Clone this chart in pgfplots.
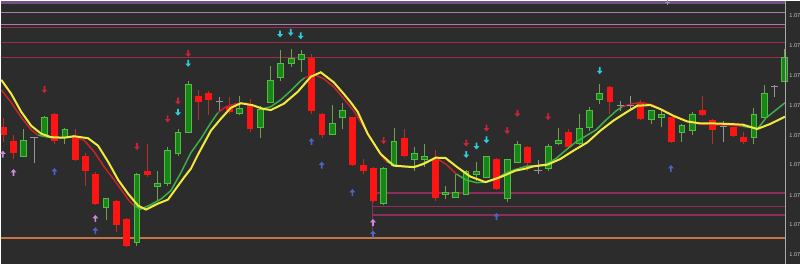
\documentclass[border=0pt]{standalone}
\usepackage{fontspec}
\setmainfont{Liberation Sans}
\usepackage{pgfplots}
\usepackage{pgfplotstable}
\pgfplotsset{compat=1.18}

\definecolor{bg}{RGB}{44,44,44}
\definecolor{gfill}{RGB}{22,135,22}
\definecolor{gline}{RGB}{90,185,70}
\definecolor{gwick}{RGB}{110,160,80}
\definecolor{rfill}{RGB}{255,20,20}
\definecolor{rwick}{RGB}{175,50,40}
\definecolor{dgray}{RGB}{150,150,150}
\definecolor{maR}{RGB}{200,35,40}
\definecolor{maG}{RGB}{60,175,70}
\definecolor{maY}{RGB}{240,235,60}
\definecolor{arR}{RGB}{205,35,55}
\definecolor{arC}{RGB}{45,205,225}
\definecolor{arL}{RGB}{200,140,220}
\definecolor{arB}{RGB}{75,100,200}
\definecolor{topband}{RGB}{115,80,135}
\definecolor{lav}{RGB}{165,125,180}
\definecolor{lred}{RGB}{155,45,70}
\definecolor{lmar}{RGB}{140,45,90}
\definecolor{lorg}{RGB}{200,115,70}
\definecolor{sep}{RGB}{170,170,170}
\definecolor{lbl}{RGB}{200,200,200}

\pgfdeclareplotmark{dnarrow}{%
 \pgfpathmoveto{\pgfqpoint{-0.42pt}{1.8pt}}%
 \pgfpathlineto{\pgfqpoint{0.42pt}{1.8pt}}%
 \pgfpathlineto{\pgfqpoint{0.42pt}{0pt}}%
 \pgfpathlineto{\pgfqpoint{1.45pt}{0pt}}%
 \pgfpathlineto{\pgfqpoint{0pt}{-1.65pt}}%
 \pgfpathlineto{\pgfqpoint{-1.45pt}{0pt}}%
 \pgfpathlineto{\pgfqpoint{-0.42pt}{0pt}}%
 \pgfpathclose\pgfusepathqfill}
\pgfdeclareplotmark{uparrow}{%
 \pgfpathmoveto{\pgfqpoint{-0.42pt}{-1.8pt}}%
 \pgfpathlineto{\pgfqpoint{0.42pt}{-1.8pt}}%
 \pgfpathlineto{\pgfqpoint{0.42pt}{0pt}}%
 \pgfpathlineto{\pgfqpoint{1.45pt}{0pt}}%
 \pgfpathlineto{\pgfqpoint{0pt}{1.65pt}}%
 \pgfpathlineto{\pgfqpoint{-1.45pt}{0pt}}%
 \pgfpathlineto{\pgfqpoint{-0.42pt}{0pt}}%
 \pgfpathclose\pgfusepathqfill}

\pgfplotsset{
  candle/.style 2 args={draw=none, mark=none, forget plot,
    error bars/.cd, y dir=both, y explicit, error mark=none,
    error bar style={draw=#1, line width=#2}},
}

% candles: i, body top, body bottom, wick top, wick bottom (screen units, downward)
\pgfplotstableread{
i bt bb wt wb
2 140 155.7 128 156
4 116.5 134 115 135
6 128.3 136.7 127 143
10 197.3 206.7 197 219
13 173.3 242.3 172 245
15 182.3 185.7 170 200
16 149.3 183 146.5 185
17 131.7 152.7 128.3 155.7
18 84 131.7 80.5 131.7
23 107.3 113.3 95 114
25 108.5 127 105 137
26 80 101.5 65.5 101.5
27 62.3 77.3 49.5 80
28 57.3 62.7 47.7 66.5
29 53.3 59.2 49.5 71.7
32 122.5 134.3 104.3 134.5
33 110 117.3 102 128.3
37 167.5 203.3 166 204
38 140.5 165 127.7 165
40 152.3 159 146 170
41 155.5 159.2 143.3 166
43 191.3 194.2 185 198
44 191.5 197.3 173 197.5
45 170.7 194.3 169.3 194.5
46 170.3 173.5 161.5 180.5
47 155.7 177 155 177.5
49 158.7 197.5 158 201
50 143.3 161.7 140 162
53 146 167.7 143 170
54 140 143.3 127 144
56 128 143.3 113.3 144
57 110 127 106.7 130
58 92.3 99 83.3 103
63 110 119.3 109 123.3
64 113.3 116.7 110 126.7
66 125 131.7 123 141
67 113.3 130 111 134
73 113.3 137.3 107.3 143.3
74 92.3 116.7 84 117
76 56.7 80.7 48.3 81
}\greentab

\pgfplotstableread{
i bt bb wt wb
0 126 134 117 141
1 140 152.7 134.3 158.5
5 113.3 140 112 143
7 135 159 128.3 160
8 155 170.7 152.5 185.5
9 173.3 203.7 171 204
11 200 224.5 199 231
12 218.3 245.3 217 246
14 170 174 143.3 176.7
19 95.5 101.7 89.7 119.3
20 92.7 99 90 114
22 106.7 111.2 96 113
24 104 128.3 98 131
30 57 110.5 53.3 113.3
31 113.3 134.3 112 137.7
34 116.7 164.3 116 165
35 164.2 170.7 158.3 173.3
36 167.5 200.7 166 201
39 137 155.7 128.3 156
42 157.2 197.5 149.5 200.8
48 158.3 188.7 157 189
51 146.3 162 145 170.7
55 131.7 146 128 148
59 86 101.7 85 113
62 101.7 118.3 99 119
65 116.7 141 116 142
68 109.3 114.3 95.7 115
69 119 129.5 118 143.3
71 126.7 135 126 136
72 136.7 141 131.7 143.3
}\redtab

\pgfplotstableread{
i y wt wb
3 137 136 162
21 100.5 96 110
52 170 159 173.3
60 105 100 110
61 105 95.7 110
70 125.5 120 141.7
75 85.5 84 96.7
}\dojitab

\begin{document}
\begin{tikzpicture}
\begin{axis}[
  scale only axis, width=400pt, height=131.5pt,
  xmin=0, xmax=800, ymin=0, ymax=263, y dir=reverse,
  axis line style={draw=none}, ticks=none,
  axis background/.style={fill=bg},
  clip=true,
]
% horizontal levels
\addplot[topband, line width=1.6pt] coordinates {(0,1.3) (785,1.3)};
\addplot[lav, line width=0.55pt] coordinates {(0,12) (785,12)};
\addplot[lav, line width=0.55pt] coordinates {(0,24) (785,24)};
\addplot[lred, line width=0.6pt] coordinates {(0,26.6) (785,26.6)};
\addplot[lred, line width=0.6pt] coordinates {(0,42) (785,42)};
\addplot[lred, line width=0.6pt] coordinates {(0,57) (785,57)};
\addplot[lmar, line width=1pt] coordinates {(372,192.7) (785,192.7)};
\addplot[lmar, line width=0.6pt] coordinates {(372,206) (785,206)};
\addplot[lmar, line width=1pt] coordinates {(372,214.3) (785,214.3)};
\addplot[lmar, line width=0.55pt] coordinates {(372,192.7) (372,238)};
\addplot[lorg, line width=0.9pt] coordinates {(0,237.8) (785,237.8)};

% wicks
\addplot[candle={gwick}{0.5pt}]
  table[x expr=2+10.3*\thisrow{i}, y expr=(\thisrow{wt}+\thisrow{wb})/2, y error expr=(\thisrow{wb}-\thisrow{wt})/2] {\greentab};
\addplot[candle={rwick}{0.5pt}]
  table[x expr=2+10.3*\thisrow{i}, y expr=(\thisrow{wt}+\thisrow{wb})/2, y error expr=(\thisrow{wb}-\thisrow{wt})/2] {\redtab};
\addplot[candle={dgray}{0.5pt}]
  table[x expr=2+10.3*\thisrow{i}, y expr=(\thisrow{wt}+\thisrow{wb})/2, y error expr=(\thisrow{wb}-\thisrow{wt})/2] {\dojitab};
% bodies
\addplot[candle={gline}{3.4pt}]
  table[x expr=2+10.3*\thisrow{i}, y expr=(\thisrow{bt}+\thisrow{bb})/2, y error expr=(\thisrow{bb}-\thisrow{bt})/2+0.4] {\greentab};
\addplot[candle={gfill}{2.4pt}]
  table[x expr=2+10.3*\thisrow{i}, y expr=(\thisrow{bt}+\thisrow{bb})/2, y error expr=(\thisrow{bb}-\thisrow{bt})/2-0.6] {\greentab};
\addplot[candle={rfill}{3.4pt}]
  table[x expr=2+10.3*\thisrow{i}, y expr=(\thisrow{bt}+\thisrow{bb})/2, y error expr=(\thisrow{bb}-\thisrow{bt})/2] {\redtab};
\addplot[only marks, mark=-, mark size=1.8pt, mark options={draw=dgray, line width=0.5pt}]
  table[x expr=2+10.3*\thisrow{i}, y=y] {\dojitab};

% coloured moving average
\addplot[maR, line width=0.75pt] coordinates {(0,89) (10,101.7) (20,116.5) (30,129) (37,134.5)};
\addplot[maG, line width=0.75pt] coordinates {(37,134.5) (47,136.5) (57,137) (67,136.5) (73,136)};
\addplot[maR, line width=0.75pt] coordinates {(73,136) (83,139.5) (93,151) (103,166) (113,179) (123,193) (128,200) (133,205)};
\addplot[maG, line width=0.75pt] coordinates {(133,205) (140,208.5) (150,204) (160,198.5) (170,190) (180,172) (190,152) (200,138) (210,122) (217,112)};
\addplot[maR, line width=0.75pt] coordinates {(217,112) (225,106) (235,103) (245,102.5) (256,106.5) (262,108)};
\addplot[maG, line width=0.75pt] coordinates {(262,108) (270,106) (280,99) (290,90) (300,80) (304,77)};
\addplot[maR, line width=0.75pt] coordinates {(304,77) (313,73.5) (323,78) (333,86) (343,98) (353,110) (363,126) (373,143) (383,158) (386,161)};
\addplot[maG, line width=0.75pt] coordinates {(386,161) (393,164) (403,166) (416,166) (426,161) (436,157.5)};
\addplot[maR, line width=0.75pt] coordinates {(436,157.5) (446,164) (456,173.5)};
\addplot[maG, line width=0.75pt] coordinates {(456,173.5) (466,179.5) (476,182) (486,181.5) (496,178) (506,172) (516,168.5) (526,165.5) (536,165) (546,163.5) (556,157.5) (566,149) (576,141) (586,135) (596,129) (606,119) (616,110) (622,106)};
\addplot[maR, line width=0.75pt] coordinates {(622,106) (632,103) (642,102) (652,104) (662,109) (672,114) (682,119) (692,122) (702,123.5) (715,124) (730,124.5) (742,125.5)};
\addplot[maG, line width=0.75pt] coordinates {(742,125.5) (752,127) (758,127.5) (766,117) (775,110) (785,102)};

% yellow moving average
\addplot[maY, line width=1pt] coordinates {(0,79) (10,93) (20,111) (30,125) (40,133) (50,136.5) (63,137) (73,135.5) (87,137.5) (97,145) (107,161) (117,179) (127,193) (137,205) (145,209) (157,203) (167,199) (175,188) (183,177) (190,168) (197,154) (210,130) (220,118) (230,107) (240,102.5) (252,104.5) (262,108) (270,109.3) (283,103) (297,91) (310,76) (320,71.5) (333,81.5) (343,93) (350,101.5) (357,111) (367,133) (380,153.3) (393,165) (400,165.5) (413,166.5) (423,163.3) (435,157) (445,157.3) (457,166.7) (470,176) (485,181.5) (500,176.5) (515,170) (525,168) (533,165.7) (547,164) (560,158.3) (573,150) (587,141.7) (600,130) (613,120) (627,111) (637,105) (650,104.3) (660,108.3) (673,115) (687,120.7) (700,122.7) (713,122.7) (730,123.3) (743,124) (757,128.3) (770,123.3) (785,116)};

% arrows
\addplot[only marks, mark=dnarrow, color=arR] coordinates {(43.3,89) (136,146) (166.7,118.3) (177,100.5) (187.3,52.7) (383,140) (465.7,142.5) (486,127.5) (506.7,130) (517,112.7) (547.7,116)};
\addplot[only marks, mark=dnarrow, color=arC] coordinates {(187.3,62.7) (177,111.7) (279.3,33.3) (290,31.7) (300,35) (465.7,154) (476,145.5) (486,139.3) (599.4,70)};
\addplot[only marks, mark=uparrow, color=arL] coordinates {(1.7,153.3) (12.3,171.7) (94.3,217.7) (372.3,221.7)};
\addplot[only marks, mark=uparrow, color=arB] coordinates {(53.3,170.7) (94.3,230) (310.7,140.7) (321,164.3) (351.7,191.7) (372.3,233.3) (496,215.7) (670.7,167.7)};
\addplot[only marks, mark=+, mark size=1.2pt, color=dgray] coordinates {(667,1.5)};

% price scale separator and labels
\addplot[sep, line width=0.5pt] coordinates {(785,0) (785,263)};
\node[anchor=west, inner sep=0pt, text=lbl, font=\fontsize{2.8pt}{3pt}\selectfont] at (axis cs:789,15) {1.07};
\node[anchor=west, inner sep=0pt, text=lbl, font=\fontsize{2.8pt}{3pt}\selectfont] at (axis cs:789,44.5) {1.07};
\node[anchor=west, inner sep=0pt, text=lbl, font=\fontsize{2.8pt}{3pt}\selectfont] at (axis cs:789,75) {1.07};
\node[anchor=west, inner sep=0pt, text=lbl, font=\fontsize{2.8pt}{3pt}\selectfont] at (axis cs:789,104.5) {1.07};
\node[anchor=west, inner sep=0pt, text=lbl, font=\fontsize{2.8pt}{3pt}\selectfont] at (axis cs:789,134.5) {1.07};
\node[anchor=west, inner sep=0pt, text=lbl, font=\fontsize{2.8pt}{3pt}\selectfont] at (axis cs:789,164) {1.07};
\node[anchor=west, inner sep=0pt, text=lbl, font=\fontsize{2.8pt}{3pt}\selectfont] at (axis cs:789,194.5) {1.07};
\node[anchor=west, inner sep=0pt, text=lbl, font=\fontsize{2.8pt}{3pt}\selectfont] at (axis cs:789,224) {1.07};
\node[anchor=west, inner sep=0pt, text=lbl, font=\fontsize{2.8pt}{3pt}\selectfont] at (axis cs:789,254) {1.07};
\end{axis}
\end{tikzpicture}
\end{document}
